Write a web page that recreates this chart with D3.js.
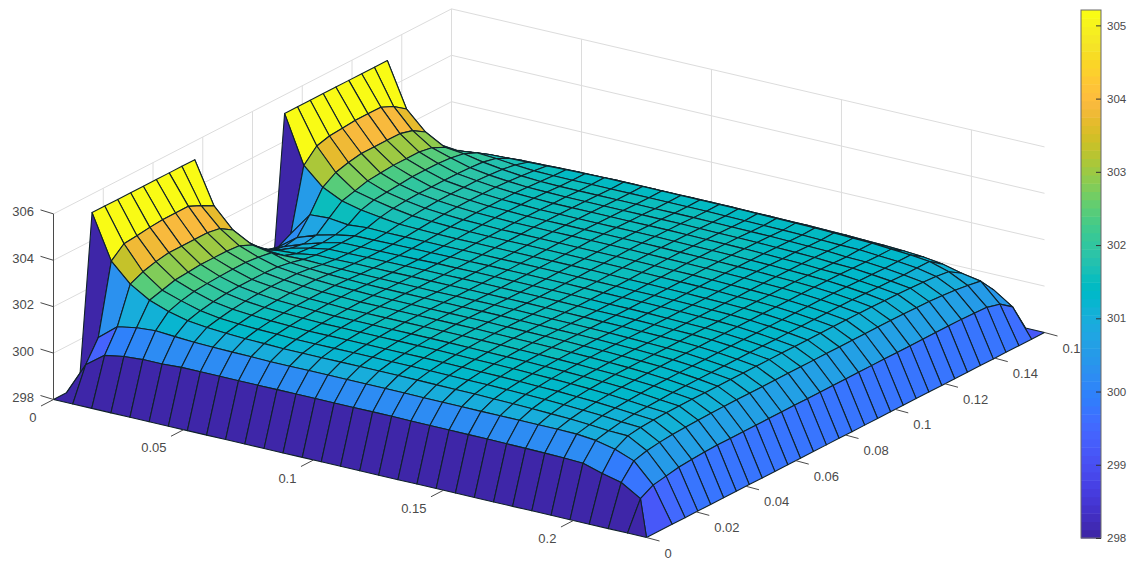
<!DOCTYPE html>
<html>
<head>
	<meta charset='utf-8'>
	<script src="https://cdnjs.cloudflare.com/ajax/libs/d3/7.8.5/d3.min.js" charset="utf-8"></script>
	<style>
	body { margin:0; background:#fff; }
	text { font-family:"Liberation Sans",sans-serif; fill:#4a4a4a; }
	</style>
</head>
<body>
	<script>

	// mesh nodes
	var xNodes = [0,.0074,.0147,.0221,.0294,.0368,.0442,.0515,.0589,.0662,.0736,.081,.0883,.0957,.103,.1104,.1178,.1251,.1325,.1398,.1472,.1546,.1619,.1693,.1766,.184,.1914,.1987,.2061,.2134,.2208,.2281];
	var yNodes = [0,.0052,.0103,.0155,.0206,.0258,.031,.0361,.0413,.0465,.0516,.0568,.0619,.0671,.0723,.0774,.0826,.0877,.0929,.0981,.1032,.1084,.1135,.1187,.1239,.129,.1342,.1394,.1445,.1497,.1548,.16];

	// temperature, one row per xNode
	var zValues = [
		[298,298,298,305.2,305.2,305.2,305.2,305.2,305.2,305.2,305.2,305.2,298,298,298,298,298,298,305.2,305.2,305.2,305.2,305.2,305.2,305.2,305.2,305.2,298,298,298,298,298],
		[298,299.4,300.3,303.3,303.77,303.83,303.9,303.95,303.95,303.95,303.7,303.4,302.15,301.35,300.85,300.35,300.2,300.5,303.15,303.7,303.85,303.9,303.95,303.95,303.95,303.7,303.3,301.5,300.8,300.2,299.4,298],
		[298,300,300.95,302.5,302.75,302.9,303,303,303,303,302.9,302.55,301.8,301.2,300.8,300.7,300.8,301.5,302.4,302.75,302.9,303,303,303,303,302.85,302.5,301.7,301.15,300.8,300,298],
		[298,300.14,301.1,302,302.15,302.3,302.35,302.4,302.4,302.4,302.35,302.1,301.6,301.3,301.1,301,301.1,301.55,302,302.15,302.3,302.35,302.4,302.4,302.4,302.3,302.04,301.6,301.25,300.9,300.14,298],
		[298,300.2,301.16,301.7,301.88,302,302.05,302.08,302.1,302.1,302.05,301.95,301.55,301.35,301.3,301.25,301.3,301.45,301.8,301.95,302,302.05,302.1,302.1,302.1,302.05,301.95,301.7,301.35,300.95,300.2,298],
		[298,300.2,301.1,301.5,301.65,301.75,301.82,301.85,301.85,301.85,301.82,301.72,301.58,301.48,301.44,301.44,301.45,301.52,301.68,301.78,301.83,301.85,301.85,301.85,301.85,301.82,301.78,301.65,301.38,301,300.25,298],
		[298,300.25,301.05,301.4,301.52,301.62,301.68,301.72,301.74,301.74,301.72,301.65,301.55,301.48,301.45,301.45,301.46,301.5,301.58,301.65,301.7,301.73,301.74,301.74,301.74,301.7,301.66,301.56,301.4,301.02,300.25,298],
		[298,300.25,301.03,301.34,301.46,301.55,301.6,301.63,301.65,301.66,301.65,301.6,301.54,301.5,301.47,301.46,301.47,301.5,301.55,301.6,301.63,301.65,301.66,301.66,301.65,301.62,301.57,301.5,301.43,301.05,300.25,298],
		[298,300.25,301.01,301.3,301.42,301.5,301.55,301.58,301.6,301.6,301.6,301.57,301.53,301.5,301.48,301.47,301.48,301.5,301.53,301.56,301.58,301.6,301.6,301.6,301.59,301.56,301.52,301.48,301.46,301.07,300.25,298],
		[298,300.25,301,301.28,301.4,301.47,301.52,301.55,301.57,301.58,301.58,301.55,301.52,301.5,301.49,301.48,301.49,301.5,301.52,301.54,301.56,301.57,301.58,301.57,301.56,301.54,301.5,301.48,301.48,301.08,300.25,298],
		[298,300.25,300.98,301.25,301.37,301.44,301.49,301.52,301.54,301.55,301.55,301.54,301.52,301.51,301.5,301.5,301.5,301.51,301.52,301.53,301.54,301.55,301.55,301.54,301.53,301.52,301.5,301.49,301.5,301.1,300.25,298],
		[298,300.25,300.98,301.25,301.37,301.44,301.49,301.52,301.54,301.55,301.55,301.54,301.52,301.51,301.5,301.5,301.5,301.51,301.52,301.53,301.54,301.55,301.55,301.54,301.53,301.52,301.5,301.49,301.5,301.1,300.25,298],
		[298,300.25,300.98,301.25,301.37,301.44,301.49,301.52,301.54,301.55,301.55,301.54,301.52,301.51,301.51,301.51,301.51,301.51,301.52,301.53,301.54,301.55,301.55,301.54,301.53,301.52,301.5,301.49,301.5,301.1,300.25,298],
		[298,300.25,300.98,301.25,301.37,301.44,301.49,301.52,301.54,301.55,301.55,301.54,301.53,301.52,301.51,301.51,301.51,301.52,301.52,301.53,301.54,301.55,301.55,301.54,301.53,301.52,301.5,301.49,301.5,301.1,300.25,298],
		[298,300.25,300.98,301.25,301.37,301.44,301.49,301.52,301.54,301.55,301.55,301.54,301.53,301.52,301.51,301.51,301.51,301.52,301.52,301.53,301.54,301.55,301.55,301.54,301.53,301.52,301.5,301.49,301.5,301.1,300.25,298],
		[298,300.25,300.98,301.25,301.37,301.44,301.49,301.52,301.54,301.55,301.55,301.54,301.53,301.52,301.51,301.51,301.51,301.52,301.52,301.53,301.54,301.55,301.55,301.54,301.53,301.52,301.5,301.49,301.5,301.1,300.25,298],
		[298,300.25,300.98,301.25,301.37,301.44,301.49,301.52,301.54,301.55,301.55,301.54,301.53,301.52,301.51,301.51,301.51,301.51,301.52,301.53,301.54,301.55,301.55,301.54,301.53,301.52,301.5,301.49,301.5,301.1,300.25,298],
		[298,300.25,300.97,301.24,301.36,301.43,301.48,301.51,301.53,301.54,301.54,301.53,301.52,301.51,301.5,301.5,301.5,301.5,301.51,301.52,301.53,301.54,301.54,301.53,301.52,301.51,301.49,301.47,301.49,301.09,300.25,298],
		[298,300.24,300.96,301.23,301.35,301.42,301.47,301.5,301.52,301.53,301.53,301.52,301.51,301.5,301.49,301.49,301.49,301.49,301.5,301.51,301.52,301.53,301.53,301.52,301.51,301.5,301.48,301.46,301.48,301.08,300.24,298],
		[298,300.24,300.96,301.22,301.34,301.41,301.46,301.49,301.51,301.52,301.52,301.51,301.5,301.49,301.48,301.48,301.48,301.48,301.49,301.5,301.51,301.52,301.52,301.51,301.5,301.49,301.47,301.45,301.47,301.07,300.24,298],
		[298,300.24,300.96,301.22,301.34,301.4,301.45,301.48,301.5,301.51,301.51,301.5,301.49,301.48,301.48,301.48,301.48,301.48,301.48,301.49,301.5,301.51,301.51,301.5,301.49,301.48,301.46,301.44,301.46,301.07,300.23,298],
		[298,300.23,300.95,301.2,301.32,301.38,301.43,301.46,301.48,301.49,301.49,301.49,301.48,301.47,301.47,301.47,301.47,301.47,301.47,301.48,301.48,301.49,301.49,301.48,301.47,301.46,301.44,301.42,301.44,301.05,300.22,298],
		[298,300.23,300.95,301.18,301.3,301.36,301.41,301.44,301.46,301.47,301.47,301.47,301.46,301.45,301.45,301.45,301.45,301.45,301.45,301.46,301.46,301.47,301.47,301.46,301.45,301.44,301.42,301.4,301.42,301.03,300.2,298],
		[298,300.22,300.95,301.16,301.28,301.34,301.38,301.41,301.43,301.44,301.44,301.44,301.43,301.43,301.43,301.43,301.43,301.43,301.43,301.43,301.44,301.44,301.44,301.43,301.42,301.41,301.39,301.37,301.39,301,300.18,298],
		[298,300.21,300.95,301.13,301.24,301.3,301.35,301.38,301.4,301.41,301.41,301.41,301.41,301.41,301.41,301.41,301.41,301.41,301.41,301.41,301.41,301.41,301.41,301.4,301.38,301.36,301.34,301.36,301.36,300.97,300.16,298],
		[298,300.2,300.95,301.1,301.2,301.26,301.3,301.33,301.35,301.36,301.37,301.37,301.37,301.37,301.37,301.37,301.37,301.37,301.37,301.37,301.37,301.37,301.37,301.36,301.35,301.33,301.31,301.3,301.3,300.93,300.14,298],
		[298,300.18,300.93,301.05,301.15,301.2,301.24,301.27,301.29,301.3,301.3,301.3,301.3,301.3,301.3,301.3,301.3,301.3,301.3,301.3,301.3,301.3,301.3,301.29,301.27,301.25,301.24,301.24,301.24,300.87,300.1,298],
		[298,300.15,300.85,300.98,301.08,301.13,301.16,301.18,301.2,301.21,301.21,301.21,301.21,301.21,301.21,301.21,301.21,301.21,301.21,301.21,301.21,301.21,301.21,301.2,301.18,301.16,301.14,301.15,301.15,300.75,300,298],
		[298,299.9,300.66,300.95,301.03,301.07,301.09,301.1,301.1,301.1,301.1,301.1,301.1,301.1,301.1,301.1,301.1,301.1,301.1,301.1,301.1,301.1,301.09,301.08,301.07,301.05,301.02,300.98,300.9,300.55,299.95,298],
		[298,299.7,300.35,300.5,300.58,300.63,300.66,300.68,300.69,300.7,300.7,300.7,300.7,300.7,300.7,300.7,300.7,300.7,300.7,300.7,300.7,300.7,300.7,300.69,300.68,300.66,300.63,300.58,300.5,300.4,299.75,298],
		[298,299.2,299.5,299.6,299.7,299.75,299.78,299.8,299.8,299.8,299.8,299.8,299.8,299.8,299.8,299.8,299.8,299.8,299.8,299.8,299.8,299.8,299.8,299.8,299.8,299.8,299.8,299.78,299.75,299.6,299.2,298],
		[298,298,298,298,298,298,298,298,298,298,298,298,298,298,298,298,298,298,298,298,298,298,298,298,298,298,298,298,298,298,298,298]
	];

	var xTicks = [0, 0.05, 0.1, 0.15, 0.2];
	var yTicks = [0, 0.02, 0.04, 0.06, 0.08, 0.1, 0.12, 0.14, 0.16];
	var yTickLabels = ['0', '0.02', '0.04', '0.06', '0.08', '0.1', '0.12', '0.14', '0.1'];
	var zTicks = [298, 300, 302, 304, 306];
	var barTicks = [298, 299, 300, 301, 302, 303, 304, 305];

	// 64 level colormap
	var parula = [[.2422,.1504,.6603],[.2504,.165,.7076],[.2578,.1818,.7511],[.2647,.1978,.7952],[.2706,.2147,.8364],[.2751,.2342,.871],[.2783,.2559,.8991],[.2803,.2782,.9221],[.2813,.3006,.9414],[.281,.3228,.9579],[.2795,.3447,.9717],[.276,.3667,.9829],[.2699,.3892,.9906],[.2602,.4123,.9952],[.244,.4358,.9988],[.2206,.4603,.9973],[.1963,.4847,.9892],[.1834,.5074,.9798],[.1786,.5289,.9682],[.1764,.5499,.952],[.1687,.5703,.9359],[.154,.5902,.9218],[.146,.6091,.9079],[.138,.6276,.8973],[.1248,.6459,.8883],[.1113,.6635,.8763],[.0952,.6798,.8598],[.0689,.6948,.8394],[.0297,.7082,.8163],[.0036,.7203,.7917],[.0067,.7312,.766],[.0433,.7411,.7394],[.0964,.75,.712],[.1408,.7584,.6842],[.1717,.767,.6554],[.1938,.7758,.6251],[.2161,.7843,.5923],[.247,.7918,.5567],[.2906,.7973,.5188],[.3406,.8008,.4789],[.3909,.8029,.4354],[.4456,.8024,.3909],[.5044,.7993,.348],[.5616,.7942,.3045],[.6174,.7876,.2612],[.672,.7793,.2227],[.7242,.7698,.191],[.7738,.7598,.1646],[.8203,.7498,.1535],[.8634,.7406,.1596],[.9035,.733,.1774],[.9393,.7288,.21],[.9728,.7298,.2394],[.9956,.7434,.2371],[.997,.7659,.2199],[.9952,.7861,.1996],[.9892,.8139,.1769],[.9786,.8353,.1546],[.9676,.862,.142],[.961,.889,.1537],[.9597,.9135,.1423],[.9628,.9373,.1265],[.9691,.9606,.1064],[.9769,.9839,.0805]];
	var parulaCss = parula.map(function (c) { return d3.rgb(c[0]*255, c[1]*255, c[2]*255).formatRgb(); });

	var canvasWidth = 1140,
		canvasHeight = 566;

	// floor corners of the box on screen
	var cornerA = [53.5, 399.5],	// x=0, y=0
		cornerB = [646.5, 537.5],	// x=max, y=0
		cornerC = [1044.5, 332.5];	// x=max, y=max

	var uScale = d3.scaleLinear().domain([0, 0.2281]).range([0, 1]),
		vScale = d3.scaleLinear().domain([0, 0.16]).range([0, 1]),
		hScale = d3.scaleLinear().domain([298, 306]).range([0, 185.6]),
		color = d3.scaleQuantize().domain([298, 305.21]).range(parulaCss),
		barScale = d3.scaleLinear().domain([298, 305.21]).range([538, 10]);

	function project(x, y, z) {
		var u = uScale(x), v = vScale(y);
		return [
			cornerA[0] + u*(cornerB[0]-cornerA[0]) + v*(cornerC[0]-cornerB[0]),
			cornerA[1] + u*(cornerB[1]-cornerA[1]) + v*(cornerC[1]-cornerB[1]) - hScale(z)
		];
	}

	// the mesh collapses at the front corner: on the last x row node 1 sits on node 0
	function nodeY(i, j) {
		return (i == xNodes.length-1 && j == 1) ? yNodes[0] : yNodes[j];
	}

	function meshPoint(i, j) {
		return project(xNodes[i], nodeY(i, j), zValues[i][j]);
	}

	var canvas = d3.select('body').append('svg').attr('width', canvasWidth).attr('height', canvasHeight)
		.style('display', 'block');

	var xMax = 0.2281, yMax = 0.16, zMin = 298, zMax = 306;
	var line = d3.line();

	// grid on the two back walls
	var grid = canvas.append('g').attr('fill', 'none').attr('stroke', '#dcdcdc').attr('stroke-width', 1);
	zTicks.forEach(function (z) {
		grid.append('path').attr('d', line([project(0, 0, z), project(0, yMax, z), project(xMax, yMax, z)]));
	});
	yTicks.forEach(function (y) {
		grid.append('path').attr('d', line([project(0, y, zMin), project(0, y, zMax)]));
	});
	xTicks.forEach(function (x) {
		grid.append('path').attr('d', line([project(x, yMax, zMin), project(x, yMax, zMax)]));
	});

	// facets, far ones first. colour comes from the first corner like matlab flat shading
	var facets = [];
	for (var i = 0; i < xNodes.length-1; i++) {
		for (var j = yNodes.length-2; j >= 0; j--) {
			facets.push({
				z: zValues[i][j],
				pts: [meshPoint(i, j), meshPoint(i+1, j), meshPoint(i+1, j+1), meshPoint(i, j+1)]
			});
		}
	}

	canvas.append('g').attr('class', 'surface').selectAll('path').data(facets).enter().append('path')
		.attr('d', function (d) { return line(d.pts) + 'Z'; })
		.attr('fill', function (d) { return color(d.z); })
		.attr('stroke', '#10222a')
		.attr('stroke-width', 1.1)
		.attr('stroke-linejoin', 'round');

	// axes
	var axes = canvas.append('g').attr('stroke', '#4a4a4a').attr('fill', 'none');
	axes.append('path').attr('d', line([project(0, 0, zMin), project(0, 0, zMax)]));

	zTicks.forEach(function (z) {
		var p = project(0, 0, z);
		axes.append('path').attr('d', line([p, [p[0]-13, p[1]-4]]));
		canvas.append('text').attr('x', 34).attr('y', p[1]-2).attr('dy', '.35em')
			.attr('text-anchor', 'end').attr('font-size', 13).text(z);
	});

	xTicks.forEach(function (x) {
		var p = project(x, 0, zMin);
		axes.append('path').attr('d', line([p, [p[0]-12.5, p[1]+6.5]]));
		canvas.append('text').attr('x', p[0]-17).attr('y', p[1]+18).attr('dy', '.35em')
			.attr('text-anchor', 'end').attr('font-size', 13).text(x);
	});

	yTicks.forEach(function (y, k) {
		var p = project(xMax, y, zMin);
		axes.append('path').attr('d', line([p, [p[0]+13, p[1]+3.5]]));
		canvas.append('text').attr('x', p[0]+18).attr('y', p[1]+15.5).attr('dy', '.35em')
			.attr('text-anchor', 'start').attr('font-size', 13).text(yTickLabels[k]);
	});

	// colorbar
	var bar = canvas.append('g').attr('class', 'colorbar');
	bar.selectAll('rect').data(parulaCss).enter().append('rect')
		.attr('x', 1081)
		.attr('width', 20)
		.attr('y', function (d) { return barScale(color.invertExtent(d)[1]); })
		.attr('height', function (d) { return barScale(color.invertExtent(d)[0]) - barScale(color.invertExtent(d)[1]) + 0.5; })
		.attr('fill', function (d) { return d; });
	bar.append('rect').attr('x', 1081).attr('y', 10).attr('width', 20).attr('height', 528)
		.attr('fill', 'none').attr('stroke', '#6a6a6a');

	var barAxis = canvas.append('g').attr('transform', 'translate(1101,0)')
		.call(d3.axisRight(barScale).tickValues(barTicks).tickSize(-5).tickPadding(6).tickFormat(d3.format('d')));
	barAxis.select('.domain').remove();
	barAxis.selectAll('line').attr('stroke', '#333');
	barAxis.selectAll('text').attr('font-size', 11.5).attr('font-family', '"Liberation Sans",sans-serif').attr('fill', '#4a4a4a');

	</script>
</body>
</html>
